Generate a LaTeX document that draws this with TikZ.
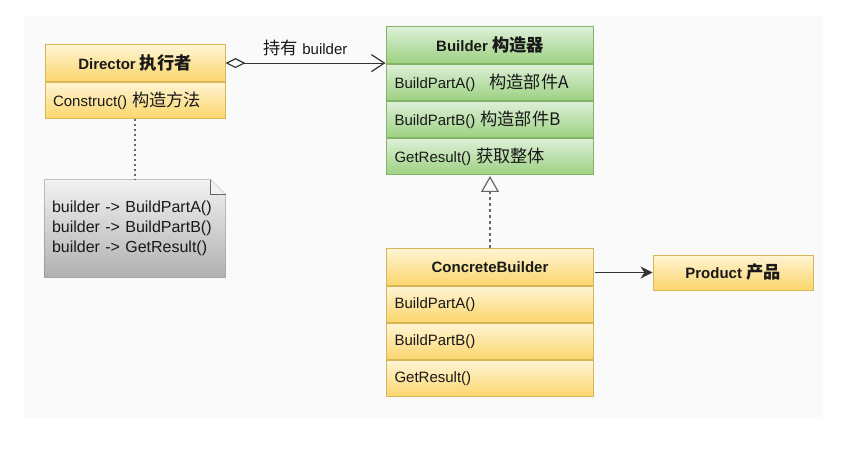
\documentclass[tikz,border=0pt]{standalone}
\usepackage{fontspec}
\setmainfont{Liberation Sans}
\newfontfamily\cjk{Noto Sans CJK SC}[Scale=1.15]
\usetikzlibrary{arrows.meta,positioning,fit,backgrounds,calc}

\definecolor{ylwtop}{HTML}{FFF4D4}
\definecolor{ylwbot}{HTML}{FBD66C}
\definecolor{ylwline}{HTML}{D6B656}
\definecolor{grntop}{HTML}{DDEFD8}
\definecolor{grnbot}{HTML}{9CD181}
\definecolor{grnline}{HTML}{82B366}
\definecolor{notetop}{HTML}{F2F2F2}
\definecolor{notebot}{HTML}{B0B0B0}
\definecolor{noteline}{HTML}{666666}
\definecolor{inkline}{HTML}{333333}

\begin{document}
\begin{tikzpicture}[x=1pt, y=-1pt, line width=1pt,
  every node/.style={font=\fontsize{15}{18}\selectfont, text=black!90},
  ybox/.style={draw=ylwline, top color=ylwtop, bottom color=ylwbot},
  gbox/.style={draw=grnline, top color=grntop, bottom color=grnbot},
  chead/.style={minimum height=36.25pt, inner sep=0pt, font=\fontsize{15}{18}\selectfont\bfseries},
  mrow/.style={minimum height=36.25pt, inner ysep=0pt, inner xsep=8pt, align=left}]
  \useasboundingbox (0,0) rectangle (852,463);

  % Director
  \node[ybox, chead, minimum width=180pt] (dhead) at (135,63.1) {Director {\cjk 执行者}};
  \node[ybox, mrow, text width=164pt, below=0pt of dhead] (dcons) {Construct() {\cjk 构造方法}};

  % Builder
  \node[gbox, chead, minimum width=207pt] (bhead) at (490,45.1) {Builder {\cjk 构造器}};
  \node[gbox, mrow, text width=191pt, below=0pt of bhead] (bparta) {BuildPartA()\hspace{14pt}{\cjk 构造部件A}};
  \node[gbox, mrow, text width=191pt, below=0pt of bparta] (bpartb) {BuildPartB() {\cjk 构造部件B}};
  \node[gbox, mrow, text width=191pt, below=0pt of bpartb] (bget) {GetResult() {\cjk 获取整体}};
  \node[fit=(bhead)(bget), inner sep=0pt] (builder) {};

  % ConcreteBuilder
  \node[ybox, chead, minimum width=207pt] (chead) at (490,267.1) {ConcreteBuilder};
  \node[ybox, mrow, text width=191pt, below=0pt of chead] (cparta) {BuildPartA()};
  \node[ybox, mrow, text width=191pt, below=0pt of cparta] (cpartb) {BuildPartB()};
  \node[ybox, mrow, text width=191pt, below=0pt of cpartb] (cget) {GetResult()};
  \node[fit=(chead)(cget), inner sep=0pt] (concrete) {};

  % Product
  \node[ybox, chead, minimum width=160pt, minimum height=35pt] (prod) at (733,272.5) {Product {\cjk 产品}};

  % note
  \node[text width=166pt, minimum height=97pt, inner sep=0pt, inner xsep=7pt, align=left,
        font=\fontsize{16}{20}\selectfont] (note) at (135,228.5)
        {builder -> BuildPartA()\\builder -> BuildPartB()\\builder -> GetResult()};

  \begin{scope}[on background layer]
    \fill[black!2] (24,16) rectangle (823,419);
    \shadedraw[top color=notetop, bottom color=notebot, draw=noteline]
      (note.north west) -- ($(note.north east)+(-15,0)$) -- ($(note.north east)+(0,15)$)
      -- (note.south east) -- (note.south west) -- cycle;
    \filldraw[fill=notetop, draw=noteline]
      ($(note.north east)+(-15,0)$) -- ($(note.north east)+(-15,15)$) -- ($(note.north east)+(0,15)$);
  \end{scope}

  % connectors
  \draw[inkline, line width=1.2pt, {Diamond[open,length=20pt,width=10pt]}-{Straight Barb[length=13pt,width=17pt]}]
    (dhead.east) -- (dhead.east -| builder.west) node[midway, above=3pt] {{\cjk 持有} builder};
  \draw[noteline, line width=1.2pt, dash pattern=on 2pt off 3pt] (dcons.south) -- (note.north);
  \draw[noteline, line width=1.5pt, dash pattern=on 3pt off 3pt,
        -{Triangle[open,length=16pt,width=18pt,line width=1.2pt]}] (chead.north) -- (builder.south);
  \draw[inkline, line width=1.2pt, -{Stealth[length=12pt,width=12pt]}] (prod.west -| concrete.east) -- (prod.west);
\end{tikzpicture}
\end{document}
